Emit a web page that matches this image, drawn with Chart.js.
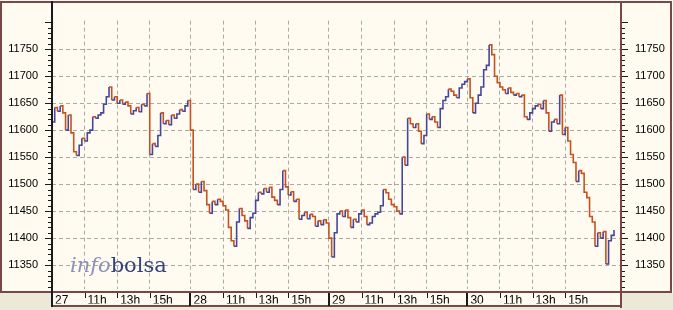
<!DOCTYPE html>
<html>
<head>
<meta charset="utf-8">
<script src="https://cdn.jsdelivr.net/npm/chart.js@4.4.1/dist/chart.umd.min.js"></script>
<style>
html, body { margin: 0; padding: 0; background: #ece9d8; }
canvas { display: block; }
</style>
</head>
<body>
<canvas id="grafico" width="673" height="310"></canvas>
<script>
// horas de sesion acumuladas al inicio de cada dia (9:00 - 17:30)
const dayStarts = [0, 8.5, 17, 25.5];
const barStep = 1 / 6; // una barra cada 10 minutos

const day27 = [11615, 11642, 11635, 11645, 11632, 11600, 11628, 11595, 11560, 11553,
  11572, 11585, 11580, 11595, 11600, 11625, 11622, 11628, 11632, 11648,
  11662, 11680, 11656, 11662, 11650, 11656, 11648, 11652, 11645, 11630,
  11636, 11642, 11634, 11648, 11645, 11668, 11555, 11575, 11570, 11590,
  11632, 11612, 11618, 11610, 11628, 11622, 11630, 11638, 11635, 11645,
  11655];
const day28 = [11600, 11490, 11500, 11485, 11505, 11488, 11462, 11446, 11468, 11462,
  11472, 11468, 11460, 11452, 11420, 11395, 11385, 11430, 11455, 11442,
  11432, 11418, 11438, 11446, 11470, 11485, 11482, 11492, 11485, 11494,
  11476, 11470, 11462, 11490, 11525, 11495, 11480, 11486, 11468, 11472,
  11435, 11442, 11448, 11436, 11444, 11440, 11422, 11432, 11425, 11434,
  11428];
const day29 = [11400, 11365, 11410, 11445, 11450, 11440, 11452, 11438, 11420, 11435,
  11430, 11445, 11452, 11440, 11425, 11428, 11440, 11445, 11448, 11460,
  11490, 11484, 11472, 11462, 11458, 11450, 11445, 11550, 11535, 11622,
  11612, 11605, 11612, 11598, 11575, 11590, 11630, 11620, 11625, 11615,
  11605, 11640, 11655, 11662, 11676, 11672, 11665, 11660, 11678, 11685,
  11690];
const day30 = [11695, 11660, 11632, 11650, 11665, 11680, 11712, 11720, 11758, 11740,
  11700, 11688, 11680, 11675, 11668, 11678, 11670, 11665, 11668, 11662,
  11665, 11625, 11620, 11632, 11640, 11645, 11648, 11640, 11655, 11632,
  11598, 11615, 11620, 11612, 11665, 11592, 11605, 11580, 11555, 11540,
  11505, 11525, 11520, 11485, 11475, 11440, 11430, 11385, 11410, 11400,
  11412, 11352, 11395, 11405, 11415];

const xTickHours = [0, 2, 4, 6, 8.5, 10.5, 12.5, 14.5, 17, 19, 21, 23, 25.5, 27.5, 29.5, 31.5];
const xTickLabels = ['27', '11h', '13h', '15h', '28', '11h', '13h', '15h',
  '29', '11h', '13h', '15h', '30', '11h', '13h', '15h'];
const yTicks = [11350, 11400, 11450, 11500, 11550, 11600, 11650, 11700, 11750];

const AZUL = '#45479a', ROJO = '#c5521f';
const CREMA = '#fffbf0', GRIS = '#ece9d8', MARCO = '#7a4646', REJILLA = '#aeaaa2';

var points = [];
[day27, day28, day29, day30].forEach((serie, d) => {
  serie.forEach((v, i) => points.push({x: dayStarts[d] + i * barStep, y: v}));
});

const marco = {
  id: 'marco',
  beforeDraw(chart) {
    let c = chart.ctx;
    c.save();
    c.fillStyle = CREMA;
    c.fillRect(0, 0, chart.width, chart.height);
    c.fillStyle = GRIS;
    c.fillRect(0, 293, 52, 17);
    c.fillRect(621, 293, 52, 17);
    c.fillRect(52, 307, 569, 3);
    c.restore();
  },
  beforeDatasetsDraw(chart) {
    // marca de agua
    let c = chart.ctx;
    c.save();
    c.textBaseline = 'alphabetic';
    c.font = 'italic 21px "DejaVu Serif"';
    c.fillStyle = '#8b91b9';
    c.fillText('info', 70, 272);
    let w = c.measureText('info').width;
    c.font = '21px "DejaVu Serif"';
    c.fillStyle = '#34427f';
    c.fillText('bolsa', 70 + w, 272);
    c.restore();
  },
  afterDraw(chart) {
    let c = chart.ctx;
    let ys = chart.scales.y, xs = chart.scales.x;
    c.save();
    c.fillStyle = MARCO;
    c.fillRect(1, 1, 671, 2);
    c.fillRect(0, 1, 2, 292);
    c.fillRect(670, 1, 2, 292);
    c.fillRect(0, 291, 672, 2);
    c.fillRect(620, 1, 2, 307);
    c.fillRect(51, 305, 571, 2);
    c.fillStyle = '#1a1a1a';
    c.fillRect(51, 1, 2, 306);
    // marcas del eje y, cada 10 puntos
    for (let v = 11310; v <= 11800; v += 10) {
      let py = Math.round(ys.getPixelForValue(v));
      let len = v % 50 === 0 ? 6 : 3;
      c.fillRect(51 - len, py, len, 1);
      c.fillRect(622, py, len, 1);
    }
    // marcas del eje x
    xTickHours.forEach((h, i) => {
      if (i === 0) return;
      let px = Math.round(xs.getPixelForValue(h));
      if (dayStarts.includes(h)) c.fillRect(px - 1, 293, 2, 13);
      else c.fillRect(px, 293, 1, 5);
    });
    c.restore();
  }
};

const fuente = {family: 'Liberation Sans', size: 11};

new Chart('grafico', {
  type: 'line',
  data: {
    datasets: [{
      data: points,
      borderWidth: 1.6,
      pointRadius: 0,
      stepped: 'before',
      borderColor: AZUL,
      segment: {
        borderColor: ctx => ctx.p1.parsed.y >= ctx.p0.parsed.y ? AZUL : ROJO
      }
    }]
  },
  options: {
    responsive: false,
    animation: false,
    events: [],
    layout: {padding: {left: 2, right: 2, top: 2, bottom: 4}},
    plugins: {legend: {display: false}, tooltip: {enabled: false}},
    scales: {
      x: {
        type: 'linear',
        position: 'bottom',
        min: 0,
        max: 34.93,
        afterFit: s => { s.height = 14; },
        afterBuildTicks: s => { s.ticks = xTickHours.map(v => ({value: v})); },
        ticks: {
          autoSkip: false,
          maxRotation: 0,
          align: 'start',
          labelOffset: 3,
          padding: 4,
          color: '#000',
          font: {family: 'Liberation Sans', size: 12},
          callback: (v, i) => xTickLabels[i]
        },
        grid: {color: REJILLA, drawTicks: false},
        border: {display: false, dash: [4, 3]}
      },
      y: {
        position: 'left',
        min: 11305,
        max: 11803,
        afterFit: s => { s.width = 50; },
        afterBuildTicks: s => { s.ticks = yTicks.map(v => ({value: v})); },
        ticks: {padding: 14, color: '#000', font: fuente, callback: v => String(v)},
        grid: {color: REJILLA, drawTicks: false},
        border: {display: false, dash: [4, 3]}
      },
      y2: {
        position: 'right',
        min: 11305,
        max: 11803,
        afterFit: s => { s.width = 50; },
        afterBuildTicks: s => { s.ticks = yTicks.map(v => ({value: v})); },
        ticks: {padding: 14, color: '#000', font: fuente, callback: v => String(v)},
        grid: {drawOnChartArea: false, drawTicks: false},
        border: {display: false}
      }
    }
  },
  plugins: [marco]
});
</script>
</body>
</html>
